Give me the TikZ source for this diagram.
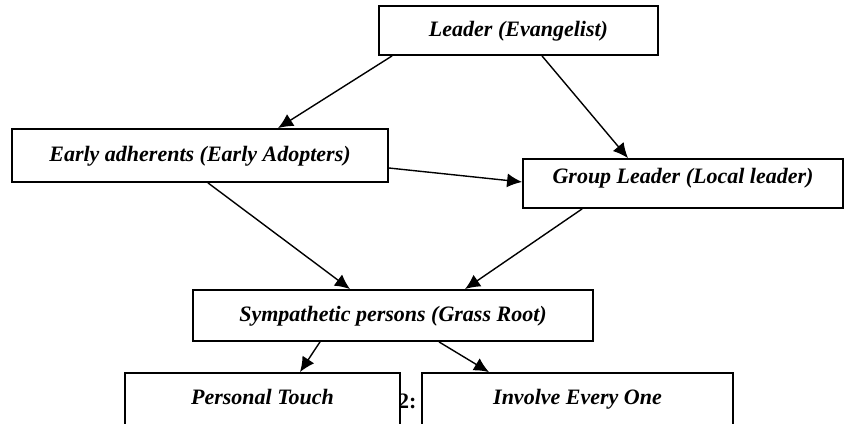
\documentclass[tikz,border=0pt]{standalone}
\usepackage{fontspec}
\setmainfont{Liberation Serif}
\usetikzlibrary{arrows.meta,positioning}

\begin{document}
\begin{tikzpicture}[x=1pt, y=-1pt,
    box/.style={rectangle, draw, line width=1.8pt, fill=white, align=center, inner sep=0pt, text height=16pt, text depth=5pt, font=\fontsize{22}{26}\selectfont\bfseries\itshape},
    arrow/.style={-{Latex[length=15pt,width=14pt]}, line width=1.4pt}
]
    \useasboundingbox (0,0) rectangle (845,423);
    \node[anchor=east, font=\fontsize{22}{26}\selectfont\bfseries] (caption) at (420,401) {2:};
    \node[box, minimum width=279pt, minimum height=49pt] (leader) at (518.5,30.5) {Leader (Evangelist)};
    \node[box, minimum width=376pt, minimum height=53pt] (early) at (200,155.5) {Early adherents (Early Adopters)};
    \node[box, minimum width=320pt, minimum height=49pt, text depth=17pt] (group) at (683,183.5) {Group Leader (Local leader)};
    \node[box, minimum width=400pt, minimum height=51pt] (symp) at (393,315.5) {Sympathetic persons (Grass Root)};
    \node[box, minimum width=275pt, minimum height=52pt] (touch) at (262.5,399) {Personal Touch};
    \node[box, minimum width=311pt, minimum height=52pt] (involve) at (577.5,399) {Involve Every One};
    
    \draw[arrow] ([xshift=14pt]leader.south west) -- ([xshift=78pt]early.north);
    \draw[arrow] ([xshift=23.5pt]leader.south) -- ([xshift=-55pt]group.north);
    \draw[arrow] ([yshift=-12.5pt]early.east) -- ([yshift=1.5pt]group.west);
    \draw[arrow] ([xshift=8pt]early.south) -- ([xshift=-43pt]symp.north);
    \draw[arrow] ([xshift=60pt]group.south west) -- ([xshift=72pt]symp.north);
    \draw[arrow] ([xshift=-73pt]symp.south) -- ([xshift=37.5pt]touch.north);
    \draw[arrow] ([xshift=46pt]symp.south) -- ([xshift=-88.5pt]involve.north);
\end{tikzpicture}
\end{document}
